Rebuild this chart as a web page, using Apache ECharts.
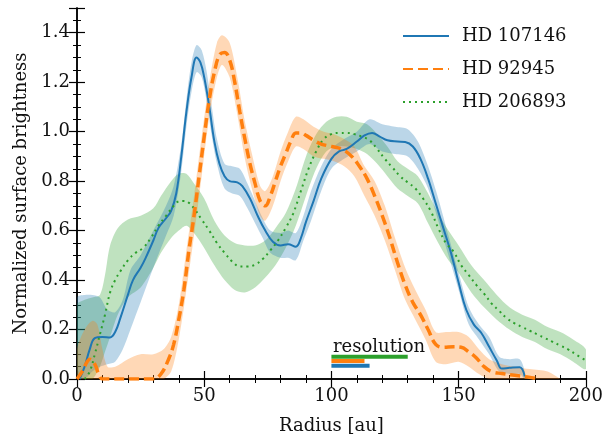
<!DOCTYPE html>
<html>
<head>
<meta charset="utf-8">
<script src="https://cdn.jsdelivr.net/npm/echarts@6/dist/echarts.min.js"></script>
<style>
html,body{margin:0;padding:0;background:#fff;}
#chart{width:606px;height:440px;}
</style>
</head>
<body>
<div id="chart"></div>
<script>
// 径向亮度曲线 数据
var names = ['HD 107146', 'HD 92945', 'HD 206893'];

// HD 107146 (蓝)
var blueR = [1,3,5,7,10,13,15,17,20,22,25,27,30,32,35,37,39,41,43,45,47,48.5,50,52,54,56,58,60,63,65,68,71,74,77,80,83,86,88,90,93,96,100,103,106,110,113,116,119,122,126,129,132,135,138,141,144,147,150,153,156,159,162,165,167,170,174,176];
var blueV = [0.0,0.05,0.12,0.165,0.17,0.168,0.19,0.245,0.34,0.40,0.45,0.49,0.56,0.61,0.65,0.68,0.75,0.9,1.08,1.22,1.30,1.28,1.22,1.10,0.96,0.87,0.82,0.80,0.795,0.78,0.73,0.66,0.60,0.555,0.54,0.545,0.535,0.57,0.635,0.72,0.81,0.89,0.92,0.93,0.96,0.985,0.995,0.98,0.965,0.96,0.958,0.94,0.89,0.81,0.71,0.61,0.51,0.39,0.28,0.22,0.185,0.13,0.075,0.042,0.045,0.048,0.01];
var blueBandR = [0,3,6,9,12,15,18,21,25,30,35,38,41,43,45,47,49,51,53,55,58,61,64,67,70,73,76,80,83,86,89,92,96,100,105,110,115,120,125,130,134,138,142,146,150,154,158,162,166,170,174,176];
var blueLo = [0,0,0.03,0.05,0.06,0.07,0.12,0.20,0.31,0.45,0.58,0.66,0.84,1.02,1.16,1.24,1.22,1.12,0.98,0.87,0.77,0.75,0.74,0.69,0.63,0.57,0.51,0.49,0.49,0.48,0.56,0.64,0.76,0.85,0.89,0.92,0.95,0.92,0.91,0.90,0.85,0.77,0.64,0.50,0.36,0.22,0.16,0.10,0.03,0.02,0.02,0.0];
var blueHi = [0.33,0.34,0.34,0.33,0.28,0.27,0.32,0.44,0.50,0.60,0.70,0.78,0.95,1.13,1.28,1.35,1.33,1.24,1.10,0.97,0.87,0.86,0.85,0.79,0.72,0.65,0.60,0.59,0.60,0.59,0.66,0.76,0.86,0.93,0.97,1.00,1.05,1.03,1.02,1.01,0.96,0.86,0.73,0.58,0.43,0.29,0.22,0.17,0.09,0.08,0.08,0.03];

// HD 92945 (橙)
var orangeR = [0,2,4,5,7,8.5,10,30,33,36,38,40,42,44,46,48,50,52,54,56,58,60,62,64,66,68,70,72,74,76,78,80,82,84,86,88,90,93,96,100,104,108,111,114,117,120,123,126,129,132,135,138,141,144,148,151,154,157,160,163,167,172,177,182];
var orangeV = [0,0.03,0.07,0.08,0.06,0.02,0,0,0.02,0.08,0.14,0.24,0.36,0.52,0.66,0.82,0.98,1.13,1.24,1.31,1.32,1.29,1.20,1.08,0.97,0.87,0.79,0.72,0.70,0.74,0.80,0.86,0.91,0.96,0.995,0.995,0.985,0.965,0.95,0.94,0.93,0.90,0.86,0.81,0.74,0.66,0.57,0.47,0.38,0.31,0.26,0.20,0.14,0.128,0.13,0.128,0.11,0.085,0.05,0.03,0.022,0.015,0.008,0];
var orangeBandR = [0,3,6,8,10,12,15,20,25,30,34,37,40,43,46,49,52,55,57,60,63,66,69,72,74,77,80,83,86,89,93,97,101,105,109,113,117,121,125,129,133,137,141,145,150,154,158,162,167,172,178,185,190];
var orangeLo = [0,0,0,0,0,0,0,0,0,0,0,0.03,0.16,0.36,0.58,0.82,1.06,1.22,1.27,1.22,1.07,0.89,0.76,0.66,0.64,0.70,0.80,0.88,0.94,0.93,0.90,0.89,0.88,0.86,0.82,0.74,0.66,0.56,0.44,0.32,0.24,0.16,0.07,0.06,0.07,0.05,0.02,0,0,0,0,0,0];
var orangeHi = [0.12,0.20,0.235,0.22,0.12,0.05,0.05,0.08,0.10,0.10,0.12,0.17,0.30,0.52,0.74,0.98,1.20,1.36,1.39,1.36,1.22,1.04,0.90,0.78,0.76,0.82,0.92,1.00,1.06,1.05,1.02,1.00,0.99,0.97,0.94,0.86,0.80,0.70,0.57,0.45,0.36,0.28,0.19,0.19,0.19,0.17,0.12,0.08,0.06,0.05,0.04,0.03,0.0];

// HD 206893 (绿)
var greenR = [3,5,7,9,11,13,15,17,20,23,26,29,32,35,38,40,42,44,46,49,52,55,58,61,64,67,70,73,76,79,82,85,88,91,94,97,100,103,106,109,112,115,118,121,124,127,130,133,136,139,142,145,148,151,154,157,160,163,166,169,172,175,178,181,184,187,190,193,196,200];
var greenV = [0.0,0.03,0.10,0.18,0.26,0.35,0.40,0.435,0.48,0.51,0.53,0.57,0.62,0.66,0.70,0.718,0.72,0.712,0.69,0.645,0.60,0.55,0.51,0.475,0.455,0.455,0.462,0.485,0.52,0.56,0.61,0.67,0.76,0.85,0.92,0.97,0.99,0.995,0.995,0.99,0.98,0.965,0.93,0.89,0.855,0.82,0.795,0.77,0.73,0.68,0.61,0.55,0.515,0.46,0.42,0.38,0.345,0.305,0.275,0.245,0.225,0.21,0.195,0.18,0.165,0.15,0.135,0.12,0.10,0.075];
var greenBandR = [0,3,6,9,11,13,16,20,25,30,33,37,40,43,46,50,54,58,62,66,70,74,78,82,86,90,94,98,102,106,110,114,118,122,126,130,134,138,142,146,150,155,160,165,170,175,180,185,190,195,200];
var greenLo = [0,0,0,0.05,0.11,0.17,0.26,0.33,0.37,0.45,0.51,0.57,0.60,0.62,0.59,0.53,0.46,0.40,0.36,0.35,0.37,0.41,0.46,0.53,0.62,0.74,0.85,0.92,0.94,0.94,0.93,0.91,0.87,0.82,0.77,0.74,0.71,0.63,0.55,0.48,0.43,0.35,0.29,0.24,0.20,0.17,0.15,0.12,0.10,0.07,0.04];
var greenHi = [0.30,0.32,0.33,0.34,0.42,0.54,0.61,0.645,0.66,0.69,0.74,0.80,0.83,0.83,0.79,0.73,0.64,0.58,0.55,0.54,0.54,0.56,0.61,0.67,0.77,0.90,0.99,1.04,1.06,1.06,1.04,1.03,0.99,0.94,0.88,0.85,0.82,0.75,0.67,0.60,0.54,0.46,0.40,0.34,0.29,0.26,0.24,0.21,0.19,0.16,0.12];

// 分辨率 (au)：绿、橙、蓝
var resStart = 100;
var resBeam = [30, 13, 15];

var colors = ['#1f77b4', '#ff7f0e', '#2ca02c'];
var font = 'DejaVu Serif';

function pairs(r, v) {
    var out = [];
    for (var i = 0; i < r.length; i++) out.push([r[i], v[i]]);
    return out;
}

// 误差带：用custom系列画多边形
function band(r, lo, hi, color, op) {
    var data = [];
    for (var i = 0; i < r.length; i++) data.push([r[i], lo[i], hi[i]]);
    return {
        type: 'custom',
        silent: true,
        clip: true,
        z: 1,
        data: data,
        encode: {x: 0, y: [1, 2]},
        renderItem: function (params, api) {
            if (params.dataIndex !== 0) return;
            var pts = [];
            for (var i = 0; i < data.length; i++) pts.push(api.coord([data[i][0], data[i][2]]));
            for (var j = data.length - 1; j >= 0; j--) pts.push(api.coord([data[j][0], data[j][1]]));
            return {
                type: 'polygon',
                shape: {points: pts, smooth: 0.3},
                style: {fill: color, opacity: op}
            };
        }
    };
}

var resY = [0.09, 0.073, 0.054];
var resColors = [colors[2], colors[1], colors[0]];
var resSeries = [];
for (var k = 0; k < resBeam.length; k++) {
    resSeries.push({
        type: 'line',
        name: 'res' + k,
        silent: true,
        symbol: 'none',
        z: 5,
        lineStyle: {color: resColors[k], width: 4, cap: 'butt'},
        data: [[resStart, resY[k]], [resStart + resBeam[k], resY[k]]]
    });
}

var tickAxisX = {
    min: 0, max: 200, interval: 50,
    axisLine: {lineStyle: {color: '#000', width: 1.5}},
    axisTick: {inside: true, length: 8, lineStyle: {color: '#000', width: 1.2}},
    minorTick: {show: true, splitNumber: 5, length: 4, lineStyle: {color: '#000', width: 1}},
    splitLine: {show: false}
};
var tickAxisY = {
    min: 0, max: 1.5, interval: 0.2,
    axisLine: {lineStyle: {color: '#000', width: 1.5}},
    axisTick: {inside: true, length: 8, lineStyle: {color: '#000', width: 1.2}},
    minorTick: {show: true, splitNumber: 4, length: 4, lineStyle: {color: '#000', width: 1}},
    splitLine: {show: false}
};

var chart = echarts.init(document.getElementById('chart'));
var option = {
    backgroundColor: '#fff',
    animation: false,
    grid: {left: 77, right: 20, top: 8, bottom: 58},
    legend: {
        data: names,
        orient: 'vertical',
        left: 397, top: 22,
        itemWidth: 46, itemHeight: 14, itemGap: 15,
        itemStyle: {opacity: 0},
        textStyle: {fontFamily: font, fontSize: 18, color: '#111', padding: [0, 0, 0, 8]}
    },
    xAxis: [
        Object.assign({}, tickAxisX, {
            type: 'value', position: 'bottom',
            name: 'Radius [au]', nameLocation: 'middle', nameGap: 38,
            nameTextStyle: {fontFamily: font, fontSize: 18, color: '#111'},
            axisLabel: {fontFamily: font, fontSize: 18, color: '#111', margin: 8}
        }),
        Object.assign({}, tickAxisX, {type: 'value', position: 'top', axisLabel: {show: false}})
    ],
    yAxis: [
        Object.assign({}, tickAxisY, {
            type: 'value', position: 'left',
            name: 'Normalized surface brightness', nameLocation: 'middle', nameGap: 47, nameRotate: 90,
            nameTextStyle: {fontFamily: font, fontSize: 18, color: '#111'},
            axisLabel: {fontFamily: font, fontSize: 18, color: '#111', margin: 7, showMaxLabel: false,
                formatter: function (v) { return v.toFixed(1); }}
        }),
        Object.assign({}, tickAxisY, {type: 'value', position: 'right', axisLabel: {show: false}})
    ],
    series: [
        band(greenBandR, greenLo, greenHi, colors[2], 0.3),
        band(blueBandR, blueLo, blueHi, colors[0], 0.3),
        band(orangeBandR, orangeLo, orangeHi, colors[1], 0.3),
        {
            name: names[0], type: 'line', symbol: 'none', smooth: 0.4, z: 3,
            itemStyle: {color: colors[0]},
            lineStyle: {color: colors[0], width: 2},
            data: pairs(blueR, blueV)
        },
        {
            name: names[1], type: 'line', symbol: 'none', smooth: 0.4, z: 4,
            itemStyle: {color: colors[1]},
            lineStyle: {color: colors[1], width: 3.5, type: [10, 5]},
            data: pairs(orangeR, orangeV)
        },
        {
            name: names[2], type: 'line', symbol: 'none', smooth: 0.4, z: 3,
            itemStyle: {color: colors[2]},
            lineStyle: {color: colors[2], width: 2, type: [2, 4]},
            data: pairs(greenR, greenV)
        }
    ].concat(resSeries),
    graphic: [{
        type: 'text', left: 333, top: 338, silent: true,
        style: {text: 'resolution', fontFamily: font, fontSize: 18, fill: '#111'}
    }]
};
chart.setOption(option);
</script>
</body>
</html>
